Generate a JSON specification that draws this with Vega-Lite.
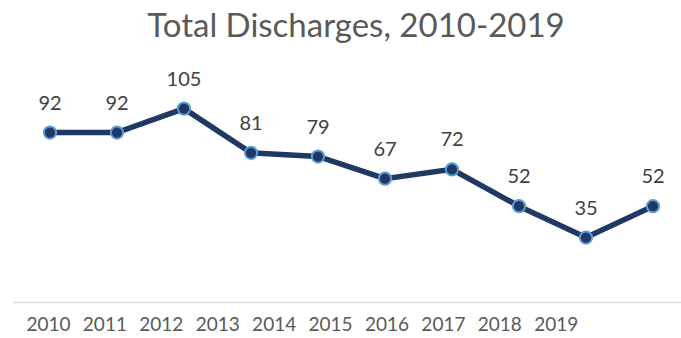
{
  "$schema": "https://vega.github.io/schema/vega-lite/v6.json",
  "width": 668,
  "height": 221,
  "padding": {"left": 13, "top": 10, "right": 0, "bottom": 0},
  "background": "white",
  "title": {
    "text": "Total Discharges, 2010-2019",
    "font": "Lato",
    "fontSize": 33,
    "fontWeight": "normal",
    "color": "#595959",
    "anchor": "middle",
    "dx": 9,
    "offset": 26
  },
  "config": {"view": {"stroke": null}},
  "data": {
    "values": [
      {"year": 2010, "discharges": 92},
      {"year": 2011, "discharges": 92},
      {"year": 2012, "discharges": 105},
      {"year": 2013, "discharges": 81},
      {"year": 2014, "discharges": 79},
      {"year": 2015, "discharges": 67},
      {"year": 2016, "discharges": 72},
      {"year": 2017, "discharges": 52},
      {"year": 2018, "discharges": 35},
      {"year": 2019, "discharges": 52}
    ]
  },
  "resolve": {"scale": {"x": "independent"}, "axis": {"x": "independent"}},
  "layer": [
    {
      "mark": {"type": "point", "opacity": 0},
      "encoding": {
        "x": {
          "field": "year",
          "type": "quantitative",
          "scale": {"domain": [2009.38, 2021.22], "nice": false, "zero": false},
          "axis": {
            "title": null,
            "values": [2010, 2011, 2012, 2013, 2014, 2015, 2016, 2017, 2018, 2019],
            "format": "d",
            "grid": false,
            "ticks": false,
            "domainColor": "#d9d9d9",
            "domainWidth": 1.5,
            "labelFont": "Lato",
            "labelFontSize": 19,
            "labelColor": "#595959",
            "labelPadding": 13
          }
        },
        "y": {"field": "discharges", "type": "quantitative", "scale": {"domain": [0, 120], "nice": false}, "axis": null}
      }
    },
    {
      "encoding": {
        "x": {
          "field": "year",
          "type": "quantitative",
          "scale": {"domain": [2009.448, 2019.418], "nice": false, "zero": false},
          "axis": null
        },
        "y": {"field": "discharges", "type": "quantitative", "scale": {"domain": [0, 120], "nice": false}, "axis": null}
      },
      "layer": [
        {"mark": {"type": "line", "color": "#1f3864", "strokeWidth": 5.5}},
        {"mark": {"type": "point", "filled": true, "fill": "#1f3864", "stroke": "#5b9bd5", "strokeWidth": 2, "size": 150, "opacity": 1}},
        {
          "mark": {"type": "text", "dy": -23, "baseline": "alphabetic", "font": "Lato", "fontSize": 20, "color": "#404040"},
          "encoding": {"text": {"field": "discharges", "type": "quantitative"}}
        }
      ]
    }
  ]
}
